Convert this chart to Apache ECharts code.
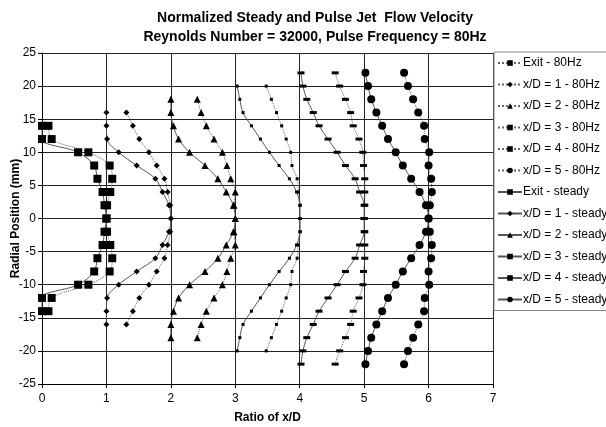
<!DOCTYPE html>
<html><head><meta charset="utf-8">
<script src="https://cdn.jsdelivr.net/npm/echarts@6/dist/echarts.min.js"></script>
<style>html,body{margin:0;padding:0;background:#fff}#c{width:606px;height:427px}</style>
</head><body><div id="c"></div>
<script>
const titleLines = ['Normalized Steady and Pulse Jet  Flow Velocity', 'Reynolds Number = 32000, Pulse Frequency = 80Hz'];
const xAxisName = 'Ratio of x/D';
const yAxisName = 'Radial Position (mm)';

const yExit = [14,12,10,8,6,4,2,0,-2,-4,-6,-8,-10,-12,-14];
const y1 = [16,14,12,10,8,6,4,2,0,-2,-4,-6,-8,-10,-12,-14,-16];
const y2 = [18,16,14,12,10,8,6,4,2,0,-2,-4,-6,-8,-10,-12,-14,-16,-18];
const y3 = [20,18,16,14,12,10,8,6,4,2,0,-2,-4,-6,-8,-10,-12,-14,-16,-18,-20];
const y4 = [22,20,18,16,14,12,10,8,6,4,2,0,-2,-4,-6,-8,-10,-12,-14,-16,-18,-20,-22];
const y5 = y4;

const exit80 = [0.10,0.15,0.72,1.05,1.09,1.06,1.01,1.0,1.01,1.06,1.09,1.05,0.72,0.15,0.10];
const d1_80 = [1.31,1.41,1.51,1.66,1.78,1.90,1.95,1.99,2.0,1.99,1.95,1.90,1.78,1.66,1.51,1.41,1.31];
const d2_80 = [2.41,2.47,2.55,2.67,2.80,2.87,2.93,3.0,2.98,3.0,2.98,3.0,2.93,2.87,2.80,2.67,2.55,2.47,2.41];
const d3_80 = [3.48,3.56,3.64,3.72,3.79,3.86,3.88,3.96,3.98,4.01,4.01,4.01,3.98,3.96,3.88,3.86,3.79,3.72,3.64,3.56,3.48];
const d4_80 = [4.55,4.62,4.71,4.79,4.83,4.92,4.98,4.99,5.01,5.01,5.01,5.0,5.01,5.01,5.01,4.99,4.98,4.92,4.83,4.79,4.71,4.62,4.55];
const d5_80 = [5.62,5.68,5.76,5.84,5.93,5.94,6.01,6.0,6.04,6.05,6.02,6.0,6.02,6.05,6.04,6.0,6.01,5.94,5.93,5.84,5.76,5.68,5.62];

const exitSteady = [0,0,0.56,0.81,0.86,0.94,0.97,1.0,0.97,0.94,0.86,0.81,0.56,0,0];
const d1Steady = [1.0,1.0,1.01,1.19,1.47,1.76,1.87,1.97,2.0,1.97,1.87,1.76,1.47,1.19,1.01,1.0,1.0];
const d2Steady = [2.0,2.0,2.04,2.12,2.29,2.53,2.73,2.86,2.97,3.0,2.97,2.86,2.73,2.53,2.29,2.12,2.04,2.0,2.0];
const d3Steady = [3.03,3.07,3.12,3.25,3.39,3.53,3.68,3.84,3.95,4.0,4.0,4.0,3.95,3.84,3.68,3.53,3.39,3.25,3.12,3.07,3.03];
const d4Steady = [4.02,4.05,4.11,4.21,4.30,4.44,4.58,4.71,4.86,4.93,5.0,5.0,5.0,4.93,4.86,4.71,4.58,4.44,4.30,4.21,4.11,4.05,4.02];
const d5Steady = [5.02,5.06,5.11,5.19,5.28,5.37,5.49,5.60,5.73,5.86,5.96,6.0,5.96,5.86,5.73,5.60,5.49,5.37,5.28,5.19,5.11,5.06,5.02];

const seriesNames = ['Exit - 80Hz','x/D = 1 - 80Hz','x/D = 2 - 80Hz','x/D = 3 - 80Hz','x/D = 4 - 80Hz','x/D = 5 - 80Hz',
  'Exit - steady','x/D = 1 - steady','x/D = 2 - steady','x/D = 3 - steady','x/D = 4 - steady','x/D = 5 - steady'];
const seriesX = [exit80,d1_80,d2_80,d3_80,d4_80,d5_80,exitSteady,d1Steady,d2Steady,d3Steady,d4Steady,d5Steady];
const seriesY = [yExit,y1,y2,y3,y4,y5,yExit,y1,y2,y3,y4,y5];

const xTicks = {min:0,max:7,interval:1};
const yTicks = {min:-25,max:25,interval:5};

const FONT = 'Liberation Sans';
const symbols = ['rect','diamond','triangle','rect','rect','circle'];
const symSizes = [8,6,7,3,[7,3],8];

const series = seriesNames.map((name,i)=>{
  const k = i%6; const pulse = i<6;
  return {
    name, type:'line', smooth:0.35,
    data: seriesX[i].map((x,j)=>[x, seriesY[i][j]]),
    symbol: symbols[k], symbolSize: symSizes[k],
    itemStyle:{color:'#000', borderWidth:0},
    lineStyle:{color: pulse ? '#666' : '#555', width:1, type: pulse ? 'dotted' : 'solid'},
    emphasis:{disabled:true}, animation:false, z: pulse?2:3
  };
});

const chart = echarts.init(document.getElementById('c'), null, {renderer:'canvas'});
chart.setOption({
  animation:false,
  backgroundColor:'#fff',
  title:{text: titleLines.join('\n'), left:310, textAlign:'center', top:4,
    textStyle:{fontFamily:FONT, fontSize:14, fontWeight:'bold', color:'#000', lineHeight:19}},
  grid:{left:42, right:113, top:53, bottom:43, containLabel:false, outerBoundsMode:'none'},
  legend:{orient:'vertical', left:494, top:52, itemWidth:24, itemHeight:7, itemGap:9.5,
    padding:[5,4,5,3], borderColor:'#888', borderWidth:1, backgroundColor:'#fff',
    textStyle:{fontFamily:FONT, fontSize:12, color:'#000', padding:[0,0,0,-4]},
    data: seriesNames},
  xAxis:{type:'value', min:xTicks.min, max:xTicks.max, interval:xTicks.interval,
    name:xAxisName, nameLocation:'middle', nameGap:28, nameMoveOverlap:false,
    nameTextStyle:{fontFamily:FONT, fontSize:12, fontWeight:'bold', color:'#000'},
    axisLine:{show:true, onZero:false, lineStyle:{color:'#000', width:1}},
    axisTick:{show:true, length:4, lineStyle:{color:'#000'}},
    axisLabel:{fontFamily:FONT, fontSize:12, color:'#000', margin:9},
    splitLine:{show:true, lineStyle:{color:'#222', width:1}}},
  yAxis:{type:'value', min:yTicks.min, max:yTicks.max, interval:yTicks.interval,
    name:yAxisName, nameLocation:'middle', nameGap:20, nameRotate:90, nameMoveOverlap:false,
    nameTextStyle:{fontFamily:FONT, fontSize:12, fontWeight:'bold', color:'#000'},
    axisLine:{show:true, onZero:false, lineStyle:{color:'#000', width:1}},
    axisTick:{show:true, length:4, lineStyle:{color:'#000'}},
    axisLabel:{fontFamily:FONT, fontSize:12, color:'#000', margin:6},
    splitLine:{show:true, lineStyle:{color:'#222', width:1}}},
  series
});
</script></body></html>
